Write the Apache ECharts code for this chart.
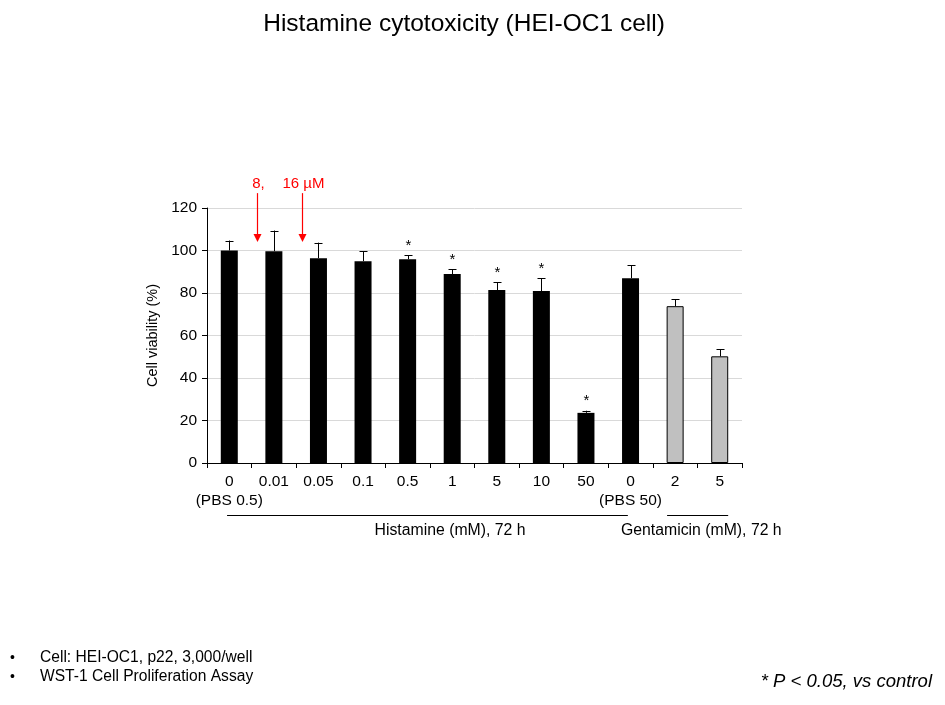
<!DOCTYPE html>
<html><head><meta charset="utf-8">
<script src="https://cdn.jsdelivr.net/npm/echarts@6/dist/echarts.min.js"></script>
<style>html,body{margin:0;padding:0;background:#fff}#c{width:945px;height:705px}</style>
</head><body><div id="c"></div>
<script>
const categories = ['0\n(PBS 0.5)', '0.01', '0.05', '0.1', '0.5', '1', '5', '10', '50', '0\n(PBS 50)', '2', '5'];
const viability = [100, 99.7, 96.4, 95, 95.9, 88.9, 81.4, 80.9, 23.6, 87, 73.8, 50.2];
const errorTop = [104.7, 109.4, 103.7, 99.7, 97.7, 91.1, 85, 87, 24.6, 93, 77.1, 53.5];
const significant = [0, 0, 0, 0, 1, 1, 1, 1, 1, 0, 0, 0];
const barGroup = ['h', 'h', 'h', 'h', 'h', 'h', 'h', 'h', 'h', 'h', 'g', 'g'];
const yTicks = [0, 20, 40, 60, 80, 100, 120];
// annotation arrows (position in category units, value units)
const arrowX = [1.13, 2.13];
const arrowTop = 127;
const arrowTip = 104;
const arrowLabels = ['8,', '16 µM'];
// group brackets (category units)
const groupSpans = [[0.45, 9.44], [10.32, 11.69]];

const FONT = '"Liberation Sans", Arial, sans-serif';
const chart = echarts.init(document.getElementById('c'));

const barData = viability.map((v, i) => ({
  value: v,
  itemStyle: barGroup[i] === 'g'
    ? { color: '#c0c0c0', borderColor: '#000', borderWidth: 1 }
    : { color: '#000' }
}));

chart.setOption({
  animation: false,
  grid: { left: 207, right: 203, top: 208, bottom: 242 },
  xAxis: [{
    type: 'category', data: categories,
    axisLine: { lineStyle: { color: '#000', width: 1 } },
    axisTick: { show: true, length: 5, lineStyle: { color: '#000' } },
    axisLabel: { color: '#000', fontFamily: FONT, fontSize: 15.5, lineHeight: 19, margin: 9, interval: 0 },
    splitLine: { show: false }
  }, {
    type: 'value', min: 0, max: 12, show: false
  }],
  yAxis: {
    type: 'value', min: 0, max: 120, interval: 20,
    name: 'Cell viability (%)', nameLocation: 'middle', nameGap: 45,
    nameTextStyle: { fontFamily: FONT, fontSize: 14.5, color: '#000' },
    axisLine: { show: true, lineStyle: { color: '#000' } },
    axisTick: { show: true, length: 5, lineStyle: { color: '#000' } },
    axisLabel: { color: '#000', fontFamily: FONT, fontSize: 15.5, margin: 10,
      formatter: v => yTicks.includes(v) ? String(v) : '' },
    splitLine: { show: true, lineStyle: { color: '#d9d9d9', width: 1 } }
  },
  series: [{
    type: 'bar', data: barData, barWidth: 17, xAxisIndex: 0
  }, {
    type: 'custom', xAxisIndex: 0, z: 5,
    data: viability.map((v, i) => [i, v, errorTop[i], significant[i]]),
    renderItem: function (params, api) {
      const top = api.coord([api.value(0), api.value(1)]);
      const err = api.coord([api.value(0), api.value(2)]);
      const x = Math.round(top[0]) + 0.5;
      const children = [
        { type: 'line', shape: { x1: x, y1: top[1], x2: x, y2: err[1] }, style: { stroke: '#000', lineWidth: 1 } },
        { type: 'line', shape: { x1: x - 4, y1: Math.round(err[1]) + 0.5, x2: x + 4, y2: Math.round(err[1]) + 0.5 }, style: { stroke: '#000', lineWidth: 1 } }
      ];
      if (api.value(3)) {
        children.push({ type: 'text', x: x, y: err[1] - 2,
          style: { text: '*', fontFamily: FONT, fontSize: 15, fill: '#000', align: 'center', verticalAlign: 'bottom' } });
      }
      return { type: 'group', children: children };
    }
  }, {
    type: 'custom', xAxisIndex: 1, z: 6, clip: false,
    data: arrowX.map((x, i) => [x, arrowTop, arrowTip, i]),
    renderItem: function (params, api) {
      const a = api.coord([api.value(0), api.value(1)]);
      const b = api.coord([api.value(0), api.value(2)]);
      const x = Math.round(a[0]) + 0.5;
      return { type: 'group', children: [
        { type: 'line', shape: { x1: x, y1: a[1], x2: x, y2: b[1] - 6 }, style: { stroke: '#ff0000', lineWidth: 1.2 } },
        { type: 'polygon', shape: { points: [[x - 4, b[1] - 8], [x + 4, b[1] - 8], [x, b[1]]] }, style: { fill: '#ff0000' } },
        { type: 'text', x: x + 1, y: a[1] - 2,
          style: { text: arrowLabels[api.value(3)], fontFamily: FONT, fontSize: 15, fill: '#ff0000',
            align: 'center', verticalAlign: 'bottom' } }
      ] };
    }
  }]
});

// group underline brackets and labels
const p = (x) => chart.convertToPixel({ xAxisIndex: 1 }, x);
const lineY = 515.5;
chart.setOption({
  graphic: [
    { type: 'text', x: 464, y: 24, style: { text: 'Histamine cytotoxicity (HEI-OC1 cell)', fontFamily: FONT, fontSize: 24.5, fill: '#000', align: 'center', verticalAlign: 'middle' } },
    { type: 'line', shape: { x1: p(groupSpans[0][0]), y1: lineY, x2: p(groupSpans[0][1]), y2: lineY }, style: { stroke: '#000', lineWidth: 1 } },
    { type: 'line', shape: { x1: p(groupSpans[1][0]), y1: lineY, x2: p(groupSpans[1][1]), y2: lineY }, style: { stroke: '#000', lineWidth: 1 } },
    { type: 'text', x: 450, y: 531, style: { text: 'Histamine (mM), 72 h', fontFamily: FONT, fontSize: 15.8, fill: '#000', align: 'center', verticalAlign: 'middle' } },
    { type: 'text', x: 621, y: 531, style: { text: 'Gentamicin (mM), 72 h', fontFamily: FONT, fontSize: 15.8, fill: '#000', align: 'left', verticalAlign: 'middle' } },
    { type: 'text', x: 10, y: 658, style: { text: '•', fontFamily: FONT, fontSize: 14, fill: '#000', verticalAlign: 'middle' } },
    { type: 'text', x: 10, y: 677, style: { text: '•', fontFamily: FONT, fontSize: 14, fill: '#000', verticalAlign: 'middle' } },
    { type: 'text', x: 40, y: 658, style: { text: 'Cell: HEI-OC1, p22, 3,000/well', fontFamily: FONT, fontSize: 15.6, fill: '#000', verticalAlign: 'middle' } },
    { type: 'text', x: 40, y: 677, style: { text: 'WST-1 Cell Proliferation Assay', fontFamily: FONT, fontSize: 15.6, fill: '#000', verticalAlign: 'middle' } },
    { type: 'text', x: 932, y: 682, style: { text: '* P < 0.05, vs control', fontFamily: FONT, fontSize: 18.5, fontStyle: 'italic', fill: '#000', align: 'right', verticalAlign: 'middle' } }
  ]
});
</script></body></html>
